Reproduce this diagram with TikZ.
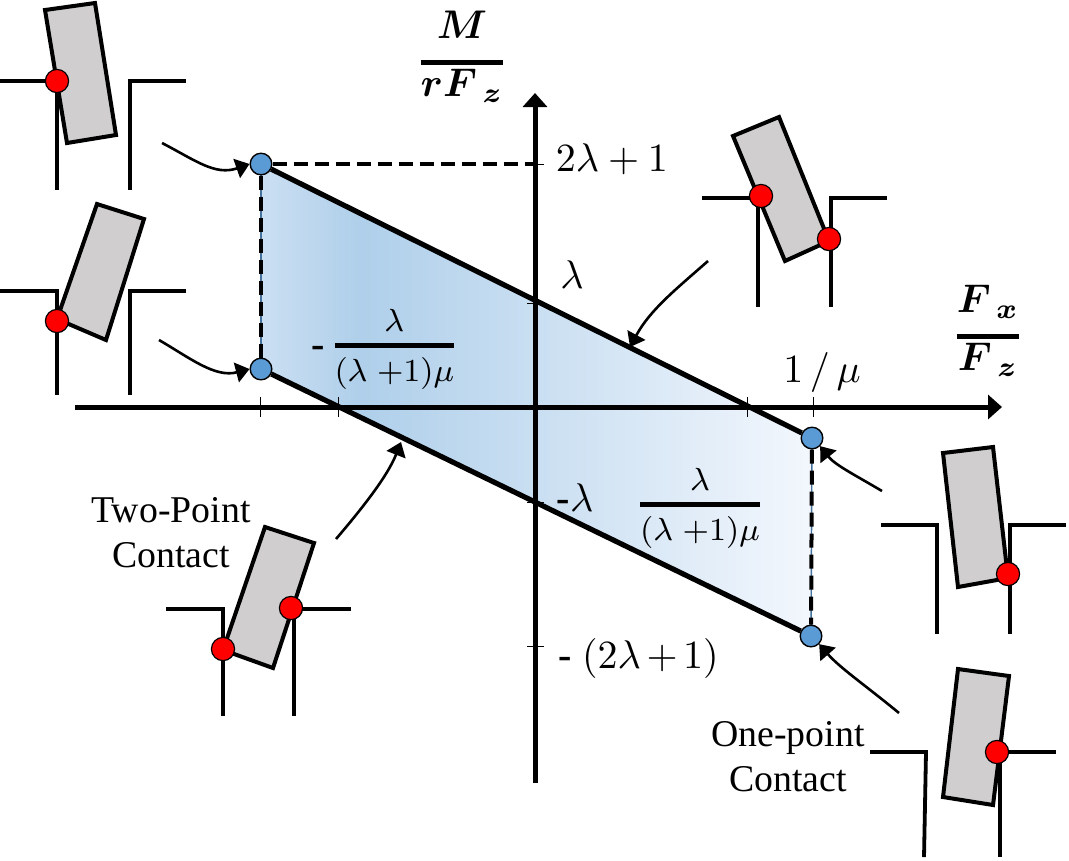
\documentclass[tikz,border=0pt]{standalone}
\usepackage{amsmath,amssymb}
\usepackage{fontspec}
\setmainfont{Liberation Serif}
\usepackage{tikz}
\usetikzlibrary{arrows.meta,shapes,positioning}
\definecolor{wedgeleft}{HTML}{CBDFF2}
\definecolor{wedgepeak}{HTML}{AFCFEA}
\definecolor{wedgeright}{HTML}{F3F7FD}
\definecolor{cornerblue}{HTML}{5B9BD5}
\definecolor{edgeblue}{HTML}{41719C}
\definecolor{blockgray}{HTML}{D0CECE}
\pgfdeclarehorizontalshading{wedgeblue}{100bp}{
  color(0bp)=(wedgeleft); color(25bp)=(wedgeleft); color(34bp)=(wedgepeak);
  color(75bp)=(wedgeright); color(100bp)=(wedgeright)
}
\newcommand{\barfrac}[4]{\genfrac{}{}{1.25pt}{1}{\textstyle\rule[-#3]{0pt}{0pt}#1}{\textstyle\rule{0pt}{#4}#2}}
\tikzset{
  every node/.style={
    font=\fontsize{9.45}{11.25}\selectfont
  },
  caption/.style={
    align=center,
    inner sep=0pt
  },
  mathlabel/.style={
    font=\fontsize{10}{12}\selectfont,
    inner sep=0pt
  },
  fraclabel/.style={
    font=\fontsize{8}{10}\selectfont,
    inner sep=0pt
  },
  corner/.style={
    shape=circle,
    draw=black,
    line width=0.35pt,
    fill=cornerblue,
    inner sep=0pt,
    minimum size=5.4pt
  },
  contact/.style={
    shape=circle,
    draw=black,
    line width=0.3pt,
    fill=red,
    inner sep=0pt,
    minimum size=5.8pt
  },
  block/.style={
    draw=black,
    line width=1pt,
    line join=miter,
    fill=blockgray
  },
  wall/.style={
    draw=black,
    line width=0.95pt,
    line join=miter
  },
  axis/.style={
    draw=black,
    line width=1.25pt,
    -{Triangle[width=6pt,length=3.5pt]}
  },
  edge/.style={
    draw=black,
    line width=1.3pt
  },
  dashedge/.style={
    draw=black,
    line width=1pt,
    dash pattern=on 3.5pt off 1.75pt
  },
  thinedge/.style={
    draw=edgeblue,
    line width=0.35pt
  },
  tickmark/.style={
    draw=black,
    line width=0.2pt
  },
  pointer/.style={
    draw=black,
    line width=0.65pt,
    -{Triangle[width=5pt,length=3.4pt]}
  }
}

\begin{document}
\begin{tikzpicture}[x=0.25pt,y=-0.25pt]
    \useasboundingbox (0,0) rectangle (1069,860);

    \coordinate (topleft) at (261,164);
    \coordinate (topright) at (812,438);
    \coordinate (botright) at (811,636);
    \coordinate (botleft) at (261,369);
    \coordinate (xstart) at (75,407);
    \coordinate (xend) at (1002,407);
    \coordinate (ystart) at (535,783);
    \coordinate (yend) at (535,93);
    \coordinate (ymark) at (535,164);
    \coordinate (upperedge) at (630,347);
    \coordinate (loweredge) at (401,442);

    \shade [shading=wedgeblue] (topleft) -- (topright) -- (botright) -- (botleft) -- cycle;
    \draw [thinedge] (topleft) -- (botleft);
    \draw [thinedge] (topright) -- (botright);

    \node [corner] (tl) at (topleft) {};
    \node [corner] (tr) at (topright) {};
    \node [corner] (br) at (botright) {};
    \node [corner] (bl) at (botleft) {};

    \draw [dashedge] (tl) -- (bl);
    \draw [dashedge] (tr) -- (br);
    \draw [dashedge] (tl) -- (ymark);
    \draw [edge] (tl) -- (tr);
    \draw [edge] (bl) -- (br);

    \draw [axis] (xstart) -- (xend);
    \draw [axis] (ystart) -- (yend);
    \foreach \x in {260,338,747,813}
      \draw [tickmark] (\x,397) -- (\x,417);
    \foreach \y in {164,303,502,646}
      \draw [tickmark] (527,\y) -- (544,\y);

    % upper left, one contact
    \draw [block] (45,10) -- (95,3) -- (116,135) -- (67,143) -- cycle;
    \draw [wall] (0,81) -- (57,81) -- (57,190);
    \draw [wall] (186,81) -- (130,81) -- (130,190);
    \node [contact] (ca) at (57,81) {};

    % lower left, one contact
    \draw [block] (97,204) -- (144,219) -- (106,340) -- (57,319) -- cycle;
    \draw [wall] (0,291) -- (57,291) -- (57,395);
    \draw [wall] (186,291) -- (130,291) -- (130,395);
    \node [contact] (cb) at (57,321) {};

    % two contacts, bottom
    \draw [block] (265,527) -- (314,543) -- (273,668) -- (223,650) -- cycle;
    \draw [wall] (166,609) -- (223,609) -- (223,716);
    \draw [wall] (351,609) -- (294,609) -- (294,716);
    \node [contact] (cc) at (223,649) {};
    \node [contact] (cd) at (291,608) {};

    % two contacts, top
    \draw [block] (733,136) -- (779,117) -- (829,241) -- (785,261) -- cycle;
    \draw [wall] (702,198) -- (758,198) -- (758,307);
    \draw [wall] (887,198) -- (831,198) -- (831,307);
    \node [contact] (ce) at (761,196) {};
    \node [contact] (cf) at (829,239) {};

    % right, one contact
    \draw [block] (943,453) -- (993,447) -- (1008,578) -- (958,587) -- cycle;
    \draw [wall] (881,525) -- (937,525) -- (937,634);
    \draw [wall] (1066,525) -- (1010,525) -- (1010,634);
    \node [contact] (cg) at (1008,574) {};

    % right bottom, one contact
    \draw [block] (958,669) -- (1009,676) -- (993,805) -- (943,797) -- cycle;
    \draw [wall] (870,752) -- (926,752) -- (924,857);
    \draw [wall] (1056,752) -- (1000,752) -- (1000,857);
    \node [contact] (ch) at (997,752) {};

    \coordinate (fromca) at (162,143);
    \coordinate (fromcb) at (159,340);
    \coordinate (fromce) at (708,261);
    \coordinate (fromcd) at (336,539);
    \coordinate (fromcg) at (882,491);
    \coordinate (fromch) at (899,713);
    \draw [pointer] (fromca) .. controls (195,160) and (215,176) .. (tl.west);
    \draw [pointer] (fromcb) .. controls (190,358) and (215,378) .. (bl.west);
    \draw [pointer] (fromce) .. controls (675,290) and (650,310) .. (upperedge);
    \draw [pointer] (fromcd) .. controls (365,505) and (388,475) .. (loweredge);
    \draw [pointer] (fromcg) .. controls (855,475) and (835,465) .. (tr.south east);
    \draw [pointer] (fromch) .. controls (865,685) and (840,668) .. (br.south east);

    \node [mathlabel,anchor=base] (ylabel) at (462,72)
      {$\barfrac{\boldsymbol{M}}{\boldsymbol{r F}_{\,\boldsymbol{z}}}{3.9pt}{0pt}$};
    \node [mathlabel,anchor=base] (xlabel) at (988,346)
      {$\barfrac{\boldsymbol{F}_{\,\boldsymbol{x}}}{\boldsymbol{F}_{\,\boldsymbol{z}}}{3.9pt}{0pt}$};
    \node [mathlabel,anchor=base west] (ytop) at (555,171) {$2\lambda+1$};
    \node [mathlabel,anchor=center] (ylam) at (572,275) {$\lambda$};
    \node [mathlabel,anchor=center] (xmu) at (822,372) {$1\,/\,\mu$};
    \node [mathlabel,anchor=center] (ylamneg) at (575,498) {\textbf{-}$\lambda$};
    \node [mathlabel,anchor=base west] (ybot) at (558,668) {\textbf{-} $(2\lambda\medmuskip=2.5mu+1)$};
    \node [fraclabel,anchor=base] (xneg) at (385,353)
      {\raisebox{-1pt}{\fontsize{10}{12}\selectfont\textbf{-}}\,$\barfrac{\lambda}{(\lambda\;{+}1)\mu}{1.5pt}{7.25pt}$};
    \node [fraclabel,anchor=base] (xpos) at (700,512)
      {$\barfrac{\lambda}{(\lambda\;{+}1)\mu}{1.5pt}{7.25pt}$};
    \node [caption] (twopoint) at (171,533) {Two-Point\\Contact};
    \node [caption] (onepoint) at (788,757) {One-point\\Contact};
\end{tikzpicture}
\end{document}
